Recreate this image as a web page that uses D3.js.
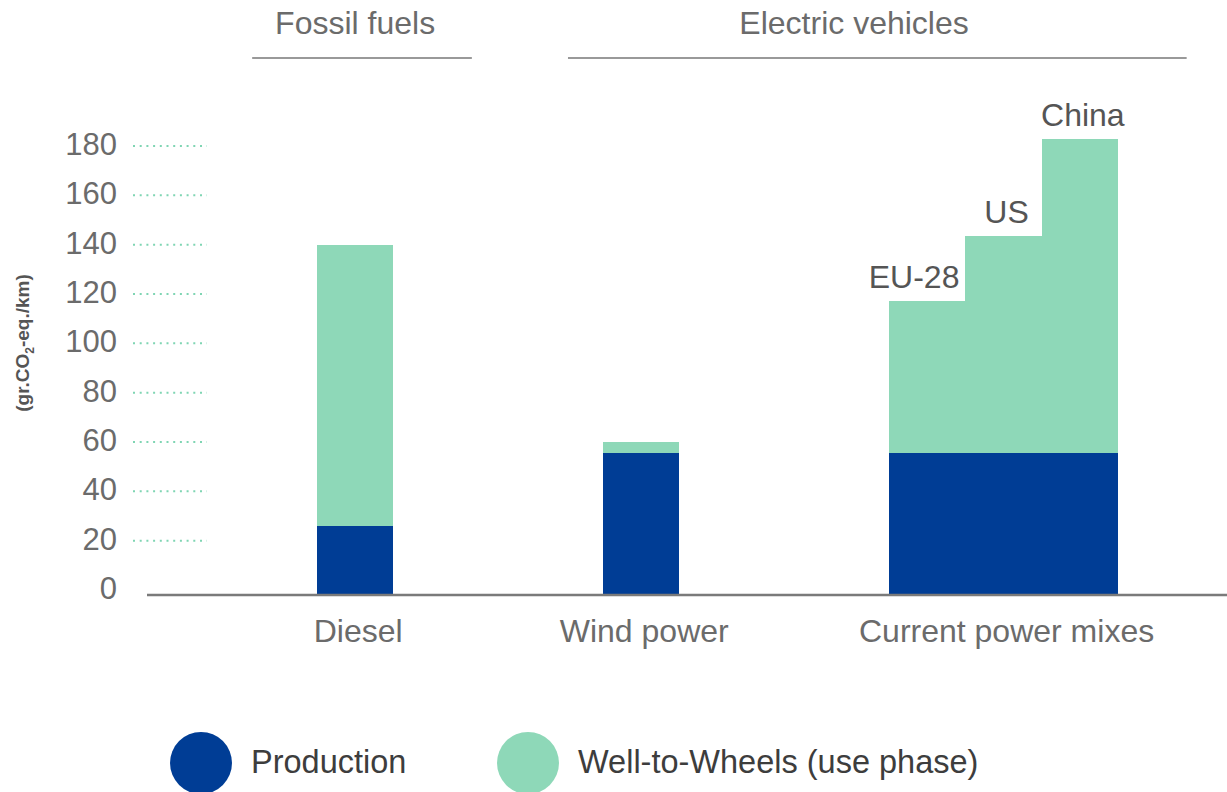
<!DOCTYPE html>
<html>
<head>
<meta charset="utf-8">
<script src="https://cdn.jsdelivr.net/npm/d3@7"></script>
<style>
  body { margin: 0; background: #fff; }
  svg { display: block; font-family: "Liberation Sans", Arial, sans-serif; }
</style>
</head>
<body>
<svg id="chart"></svg>
<script>
// values in gr.CO2-eq./km
var groups = ["Diesel", "Wind power", "Current power mixes"];
var bars = ["Diesel", "Wind power", "EU-28", "US", "China"];
var barGroup = [0, 1, 2, 2, 2];
var barLabels = ["", "", "EU-28", "US", "China"];
var production = [26, 55.5, 55.5, 55.5, 55.5];
var wellToWheels = [114, 4.5, 61.5, 88, 127.5];
var yTicks = [0, 20, 40, 60, 80, 100, 120, 140, 160, 180];
var headers = ["Fossil fuels", "Electric vehicles"];
var seriesNames = ["Production", "Well-to-Wheels (use phase)"];

var colors = ["#003d95", "#8ed8b8"];
var svgWidth = 1227, svgHeight = 792;
var gap = 2.75; // space between groups, in bar widths

var svg = d3.select("#chart")
    .attr("width", svgWidth)
    .attr("height", svgHeight);

// bar slots: bars in one group sit next to each other, groups are separated by gap
var slot = [];
var pos = 0;
bars.forEach(function(b, i) {
    if (i > 0 && barGroup[i] != barGroup[i - 1]) pos += gap;
    slot.push(pos);
    pos += 1;
});
var totalUnits = pos;

var x = d3.scaleLinear()
    .domain([0, totalUnits])
    .range([317, 1118]);

var y = d3.scaleLinear()
    .domain([0, 180])
    .range([590, 146]);

var baseline = y(0) + 5;

// y axis labels and dotted tick marks
var ticks = svg.append("g");
ticks.selectAll("text")
    .data(yTicks)
    .enter()
    .append("text")
    .attr("x", 117)
    .attr("y", function(d) { return y(d) - 2; })
    .attr("dy", "0.36em")
    .attr("text-anchor", "end")
    .attr("fill", "#6b6b6b")
    .style("font-size", "31px")
    .text(function(d) { return d; });

ticks.selectAll("line")
    .data(yTicks.filter(function(d) { return d > 0; }))
    .enter()
    .append("line")
    .attr("x1", 133)
    .attr("x2", 207)
    .attr("y1", function(d) { return y(d); })
    .attr("y2", function(d) { return y(d); })
    .attr("stroke", "#7fd5b3")
    .attr("stroke-width", 2)
    .attr("stroke-dasharray", "2,4.7");

svg.append("text")
    .attr("transform", "translate(29," + 343 + ") rotate(-90)")
    .attr("text-anchor", "middle")
    .attr("fill", "#555")
    .style("font-size", "19px")
    .style("font-weight", "bold")
    .html('(gr.CO<tspan dy="5" style="font-size:12px">2</tspan><tspan dy="-5">-eq./km)</tspan>');

// stacked bars
var stackRows = bars.map(function(b, i) {
    return { key: b, production: production[i], wtw: wellToWheels[i], i: i };
});
var stacked = d3.stack().keys(["production", "wtw"])(stackRows);

svg.append("g")
    .attr("shape-rendering", "crispEdges")
    .selectAll("g")
    .data(stacked)
    .enter()
    .append("g")
    .attr("fill", function(d, k) { return colors[k]; })
    .selectAll("rect")
    .data(function(d) { return d; })
    .enter()
    .append("rect")
    .attr("x", function(d) { return Math.round(x(slot[d.data.i])); })
    .attr("width", function(d) { return Math.round(x(slot[d.data.i] + 1)) - Math.round(x(slot[d.data.i])); })
    .attr("y", function(d) { return y(d[1]); })
    .attr("height", function(d) { return (d[0] == 0 ? baseline : y(d[0])) - y(d[1]); });

// country labels over the power mix bars
var labelAnchor = ["end", "end", "end", "middle", "middle"];
svg.append("g")
    .selectAll("text")
    .data(stackRows.filter(function(d) { return barLabels[d.i] != ""; }))
    .enter()
    .append("text")
    .attr("x", function(d) {
        return labelAnchor[d.i] == "end" ? x(slot[d.i] + 1) - 6 : x(slot[d.i] + 0.5) + 3;
    })
    .attr("y", function(d) { return y(d.production + d.wtw) - 13; })
    .attr("text-anchor", function(d) { return labelAnchor[d.i]; })
    .attr("fill", "#555")
    .style("font-size", "32px")
    .text(function(d) { return barLabels[d.i]; });

// baseline
svg.append("line")
    .attr("x1", 147)
    .attr("x2", svgWidth)
    .attr("y1", baseline)
    .attr("y2", baseline)
    .attr("stroke", "#7a7a7a")
    .attr("stroke-width", 2.5);

// group labels under the axis
function groupCenter(g) {
    var idx = d3.range(bars.length).filter(function(i) { return barGroup[i] == g; });
    return (x(slot[idx[0]]) + x(slot[idx[idx.length - 1]] + 1)) / 2;
}
svg.append("g")
    .selectAll("text")
    .data(groups)
    .enter()
    .append("text")
    .attr("x", function(d, i) { return groupCenter(i) + 3; })
    .attr("y", 642)
    .attr("text-anchor", "middle")
    .attr("fill", "#6b6b6b")
    .style("font-size", "32px")
    .text(function(d) { return d; });

// headers above the chart (text centre and rule span in bar units)
var headerLayout = [
    { text: 0.5, from: -0.85, to: 2.03 },
    { text: 7.04, from: 3.29, to: 11.4 }
];
var head = svg.append("g")
    .selectAll("g")
    .data(headers)
    .enter()
    .append("g");
head.append("text")
    .attr("x", function(d, i) { return x(headerLayout[i].text); })
    .attr("y", 34)
    .attr("text-anchor", "middle")
    .attr("fill", "#6b6b6b")
    .style("font-size", "32px")
    .text(function(d) { return d; });
head.append("line")
    .attr("x1", function(d, i) { return x(headerLayout[i].from); })
    .attr("x2", function(d, i) { return x(headerLayout[i].to); })
    .attr("y1", 58)
    .attr("y2", 58)
    .attr("stroke", "#999")
    .attr("stroke-width", 2);

// legend
var legendX = [201, 528];
var legend = svg.append("g")
    .selectAll("g")
    .data(seriesNames)
    .enter()
    .append("g")
    .attr("transform", function(d, i) { return "translate(" + legendX[i] + ",763)"; });
legend.append("circle")
    .attr("r", 31)
    .attr("fill", function(d, i) { return colors[i]; });
legend.append("text")
    .attr("x", 50)
    .attr("y", 10)
    .attr("fill", "#3d3d3d")
    .style("font-size", "32.5px")
    .text(function(d) { return d; });
</script>
</body>
</html>
